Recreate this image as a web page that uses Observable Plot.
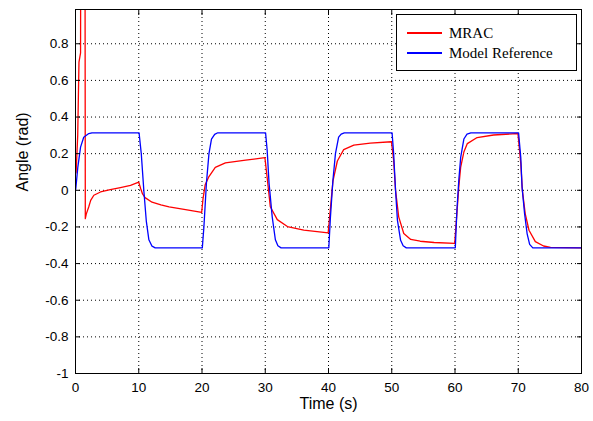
<!DOCTYPE html>
<html>
<head>
<meta charset="utf-8">
<script src="https://cdn.jsdelivr.net/npm/d3@7"></script>
<script src="https://cdn.jsdelivr.net/npm/@observablehq/plot@0.6"></script>
<style>
  html, body { margin: 0; padding: 0; background: #fff; }
  #wrap { position: relative; width: 593px; height: 421px; }
  #legend { position: absolute; left: 396px; top: 14px; width: 181px; height: 57px;
            border: 1px solid #000; background: #fff; box-sizing: border-box;
            font-family: "Liberation Serif", "Times New Roman", serif; font-size: 15px; color: #000; }
  .row { position: absolute; left: 0; height: 18px; line-height: 18px; }
  .sw { position: absolute; left: 10px; width: 35px; height: 2px; top: 8px; }
  .lab { position: absolute; left: 52px; top: 0; white-space: nowrap; }
</style>
</head>
<body>
<div id="wrap"></div>
<script>
// ---- data ----
const seriesNames = ["MRAC", "Model Reference"];
const seriesColors = ["#ff0000", "#0000ff"];
const xTicks = [0, 10, 20, 30, 40, 50, 60, 70, 80];
const yTicks = [-1, -0.8, -0.6, -0.4, -0.2, 0, 0.2, 0.4, 0.6, 0.8];
const xLabel = "Time (s)";
const yLabel = "Angle (rad)";

const mracT = [0, 0.1, 0.35, 0.55, 0.8, 0.83, 1.5, 1.55, 1.7, 2.1, 2.4, 2.9, 3.95, 5.5, 7.1, 8.7,
  10.0, 10.3, 10.6, 11.0, 12.1, 13.5, 14.8, 17.4, 19.95,
  20.15, 20.5, 21.1, 22.1, 23.7, 26.9, 29.95,
  30.3, 30.8, 31.9, 33.5, 36.1, 39.95,
  40.3, 40.7, 41.4, 42.4, 44.0, 46.6, 49.95,
  50.3, 50.6, 51.1, 51.9, 53.0, 54.5, 56.7, 59.95,
  60.3, 60.6, 60.9, 61.4, 61.95, 63.5, 66.1, 69.95,
  70.4, 70.65, 71.1, 71.7, 72.7, 74.0, 75.1, 80];
const mracV = [0.09, 0.1, 0.3, 0.7, 0.75, 1.5, 1.5, -0.155, -0.13, -0.09, -0.055, -0.027, -0.009, 0.004, 0.015, 0.027,
  0.045, 0.01, -0.02, -0.04, -0.065, -0.08, -0.09, -0.105, -0.12,
  -0.05, 0.03, 0.075, 0.125, 0.15, 0.165, 0.178,
  0.07, -0.09, -0.16, -0.198, -0.217, -0.232,
  -0.1, 0.05, 0.16, 0.222, 0.247, 0.258, 0.265,
  0.164, 0, -0.145, -0.236, -0.268, -0.278, -0.285, -0.29,
  -0.127, 0.018, 0.127, 0.209, 0.255, 0.288, 0.302, 0.31,
  0.146, 0, -0.127, -0.218, -0.28, -0.304, -0.312, -0.314];

const refT = [0, 0.05, 0.37, 0.8, 1.3, 2.1, 2.6,
  10.05, 10.4, 10.8, 11.2, 11.6, 12.1, 12.6,
  20.05, 20.3, 20.7, 21.1, 21.5, 22.0, 22.5,
  30.05, 30.3, 30.6, 31.1, 31.6, 32.0, 32.5,
  40.05, 40.3, 40.7, 41.1, 41.6, 42.0, 42.5,
  50.05, 50.3, 50.6, 50.9, 51.4, 51.8, 52.3,
  60.05, 60.3, 60.6, 60.9, 61.4, 61.9, 62.5,
  70.05, 70.4, 70.6, 71.0, 71.4, 71.8, 72.3, 80];
const refV = [0, 0.01, 0.127, 0.236, 0.29, 0.31, 0.314,
  0.314, 0.2, 0, -0.17, -0.27, -0.305, -0.314,
  -0.314, -0.2, 0.04, 0.2, 0.28, 0.305, 0.314,
  0.314, 0.22, 0.04, -0.145, -0.27, -0.303, -0.314,
  -0.314, -0.15, 0.055, 0.2, 0.29, 0.307, 0.314,
  0.314, 0.2, 0, -0.164, -0.273, -0.303, -0.314,
  -0.314, -0.11, 0.055, 0.18, 0.28, 0.307, 0.314,
  0.314, 0.18, 0.018, -0.127, -0.236, -0.295, -0.314, -0.314];

// ---- build ----
const mrac = mracT.map((t, i) => ({t, v: mracV[i]}));
const ref = refT.map((t, i) => ({t, v: refV[i]}));
const fmt = d => String(d);
const sans = "'Liberation Sans', Arial, sans-serif";

const chart = Plot.plot({
  width: 593,
  height: 421,
  marginLeft: 75,
  marginRight: 12,
  marginTop: 9,
  marginBottom: 48,
  style: {fontFamily: sans, fontSize: "13px", color: "#000", background: "#fff"},
  x: {domain: [0, 80], axis: null},
  y: {domain: [-1, 0.987], axis: null},
  marks: [
    Plot.gridX(xTicks, {stroke: "#000", strokeOpacity: 1, strokeDasharray: "1,3"}),
    Plot.gridY(yTicks, {stroke: "#000", strokeOpacity: 1, strokeDasharray: "1,3"}),
    Plot.line(mrac, {x: "t", y: "v", stroke: seriesColors[0], strokeWidth: 1.3, clip: true}),
    Plot.line(ref, {x: "t", y: "v", stroke: seriesColors[1], strokeWidth: 1.3, clip: true}),
    Plot.frame({stroke: "#000", strokeWidth: 1}),
    // inward ticks on all four sides
    Plot.axisX({ticks: xTicks, anchor: "bottom", tickSize: 5, dy: -5, tickFormat: () => "", label: null, stroke: "#000"}),
    Plot.axisX({ticks: xTicks, anchor: "top", tickSize: 5, dy: 5, tickFormat: () => "", label: null, stroke: "#000"}),
    Plot.axisY({ticks: yTicks, anchor: "left", tickSize: 5, dx: 5, tickFormat: () => "", label: null, stroke: "#000"}),
    Plot.axisY({ticks: yTicks, anchor: "right", tickSize: 5, dx: -5, tickFormat: () => "", label: null, stroke: "#000"}),
    // tick labels
    Plot.axisX({ticks: xTicks, anchor: "bottom", tickSize: 0, tickPadding: 9, tickFormat: fmt, label: null, fontSize: 13.5, fill: "#000"}),
    Plot.axisY({ticks: yTicks, anchor: "left", tickSize: 0, tickPadding: 7, tickFormat: fmt, label: null, fontSize: 13.5, fill: "#000"}),
    // axis titles
    Plot.text([xLabel], {frameAnchor: "bottom", dy: 35, text: d => d, fontSize: 16, fill: "#000"}),
    Plot.text([yLabel], {frameAnchor: "left", dx: -53, rotate: -90, text: d => d, fontSize: 16, fill: "#000"})
  ]
});

const wrap = document.getElementById("wrap");
wrap.appendChild(chart);

// legend
const legend = document.createElement("div");
legend.id = "legend";
seriesNames.forEach((name, i) => {
  const row = document.createElement("div");
  row.className = "row";
  row.style.top = (9 + i * 20) + "px";
  row.style.width = "100%";
  const sw = document.createElement("div");
  sw.className = "sw";
  sw.style.background = seriesColors[i];
  const lab = document.createElement("div");
  lab.className = "lab";
  lab.textContent = name;
  row.appendChild(sw);
  row.appendChild(lab);
  legend.appendChild(row);
});
wrap.appendChild(legend);
</script>
</body>
</html>
